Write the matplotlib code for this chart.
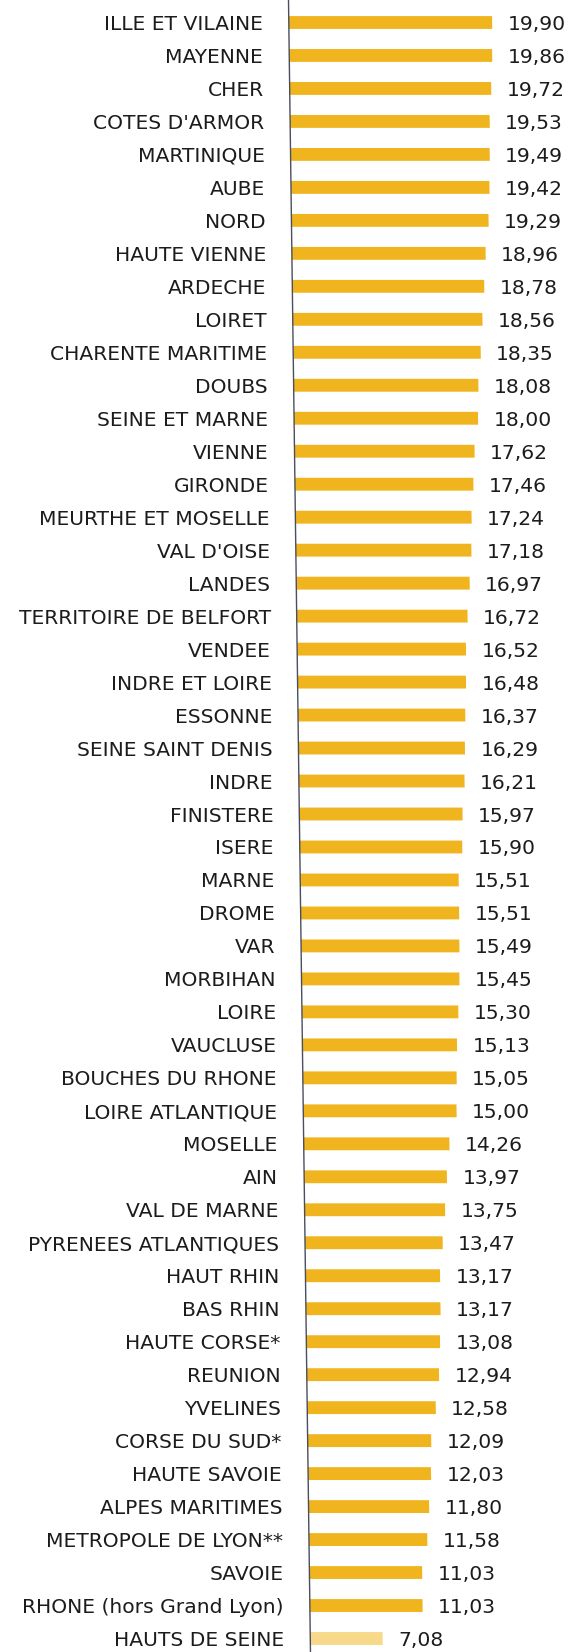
import math
import matplotlib
matplotlib.use("Agg")
import matplotlib.pyplot as plt
from matplotlib.transforms import Affine2D

categories = [
    "ILLE ET VILAINE", "MAYENNE", "CHER", "COTES D'ARMOR", "MARTINIQUE", "AUBE",
    "NORD", "HAUTE VIENNE", "ARDECHE", "LOIRET", "CHARENTE MARITIME", "DOUBS",
    "SEINE ET MARNE", "VIENNE", "GIRONDE", "MEURTHE ET MOSELLE", "VAL D'OISE",
    "LANDES", "TERRITOIRE DE BELFORT", "VENDEE", "INDRE ET LOIRE", "ESSONNE",
    "SEINE SAINT DENIS", "INDRE", "FINISTERE", "ISERE", "MARNE", "DROME", "VAR",
    "MORBIHAN", "LOIRE", "VAUCLUSE", "BOUCHES DU RHONE", "LOIRE ATLANTIQUE",
    "MOSELLE", "AIN", "VAL DE MARNE", "PYRENEES ATLANTIQUES", "HAUT RHIN",
    "BAS RHIN", "HAUTE CORSE*", "REUNION", "YVELINES", "CORSE DU SUD*",
    "HAUTE SAVOIE", "ALPES MARITIMES", "METROPOLE DE LYON**", "SAVOIE",
    "RHONE (hors Grand Lyon)", "HAUTS DE SEINE",
]
values = [
    19.90, 19.86, 19.72, 19.53, 19.49, 19.42, 19.29, 18.96, 18.78, 18.56,
    18.35, 18.08, 18.00, 17.62, 17.46, 17.24, 17.18, 16.97, 16.72, 16.52,
    16.48, 16.37, 16.29, 16.21, 15.97, 15.90, 15.51, 15.51, 15.49, 15.45,
    15.30, 15.13, 15.05, 15.00, 14.26, 13.97, 13.75, 13.47, 13.17, 13.17,
    13.08, 12.94, 12.58, 12.09, 12.03, 11.80, 11.58, 11.03, 11.03, 7.08,
]
highlight = ["HAUTS DE SEINE"]

W, H = 572, 1652
fig = plt.figure(figsize=(W / 100, H / 100), dpi=100)
ax_left = 288.5
ax = fig.add_axes([ax_left / W, 0, (W - ax_left) / W, 1])

first_center = 22.5
last_center = 1638.5
pitch = (last_center - first_center) / (len(categories) - 1)
y_top = -first_center / pitch
y_bot = (H - first_center) / pitch
px_per_unit = 10.22
xmax = (W - ax_left) / px_per_unit
ax.set_xlim(0, xmax)
ax.set_ylim(y_bot, y_top)

# the scanned page is slightly slanted: things drift right going down
slope = 21.5 / 1617
skew = Affine2D().skew(-math.atan(slope), 0).translate(slope * H, 0)
trans = ax.transData + skew

main_color = "#F0B51E"
light_color = "#F8D98A"
colors = [light_color if c in highlight else main_color for c in categories]
ypos = list(range(len(categories)))
ax.barh(ypos, values, height=0.39, color=colors, edgecolor="none", transform=trans)

# axis line
ax.plot([0, 0], [y_bot, y_top], color="#4a4e5e", lw=1.0, transform=trans,
        clip_on=False)

font = "DejaVu Sans"
fs = 14.6
tcol = "#1c1c1c"
lab_trans = trans + Affine2D().translate(-26, 0)
val_trans = trans + Affine2D().translate(15.5, 0)
for y, c, v in zip(ypos, categories, values):
    ax.text(0, y, c, ha="right", va="center_baseline", fontsize=fs,
            family=font, color=tcol, transform=lab_trans, clip_on=False)
    ax.text(v, y, f"{v:.2f}".replace(".", ","), ha="left",
            va="center_baseline", fontsize=fs, family=font, color=tcol,
            transform=val_trans, clip_on=False)

ax.set_xticks([])
ax.set_yticks([])
for s in ax.spines.values():
    s.set_visible(False)
ax.patch.set_alpha(0)

fig.savefig("out.png", dpi=100)
